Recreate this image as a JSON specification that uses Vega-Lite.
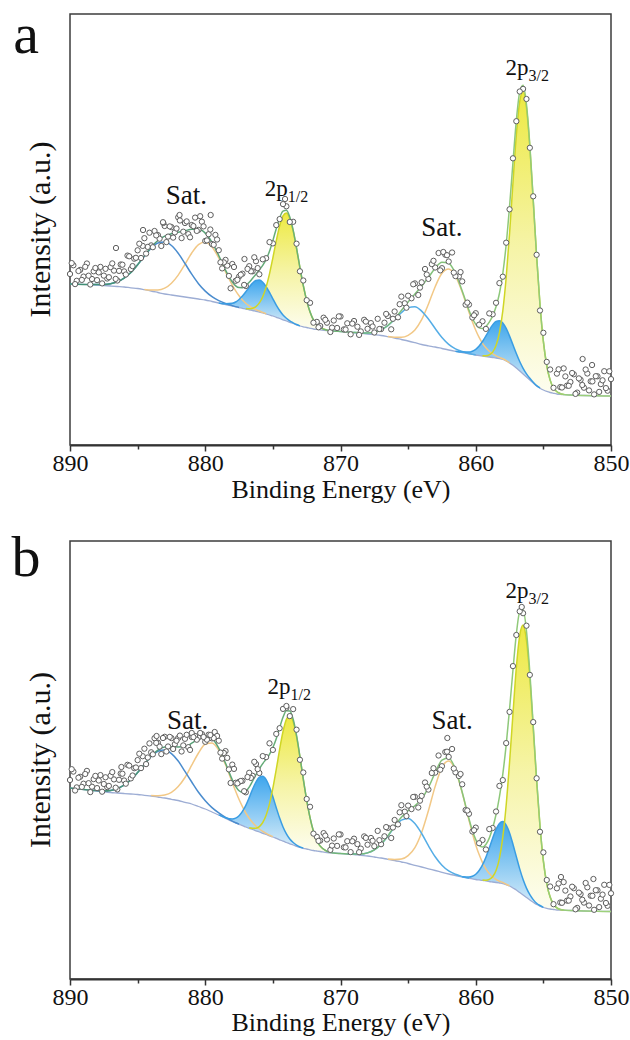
{
  "$schema": "https://vega.github.io/schema/vega-lite/v6.json",
  "background": "white",
  "padding": {"left": 10, "top": 6, "right": 5, "bottom": 0},
  "bounds": "flush",
  "spacing": 96,
  "config": {
    "view": {"stroke": "#3c3c3c", "strokeWidth": 1.5},
    "font": "Liberation Serif",
    "axis": {"labelFont": "Liberation Serif", "titleFont": "Liberation Serif", "labelColor": "#111111", "titleColor": "#111111", "titleFontWeight": "normal", "grid": false},
    "text": {"font": "Liberation Serif", "color": "#111111"}
  },
  "datasets": {
    "ca": [
      {"e":850,"bg":49,"env":49},{"e":851,"bg":49.2,"env":49.2},{"e":852,"bg":49.5,"env":49.5},{"e":853,"bg":50,"env":50},
      {"e":853.5,"bg":50.3,"env":50.6,"Y1":50.6},{"e":853.75,"bg":50.6,"env":51.4,"Y1":51.4},{"e":854,"bg":51,"env":53.2,"Y1":53.2},
      {"e":854.25,"bg":51.7,"env":57.1,"Y1":57.1},{"e":854.5,"bg":52.5,"env":64.9,"Y1":64.9},{"e":854.75,"bg":53.6,"env":79.5,"Y1":79.5},
      {"e":855,"bg":55,"env":103.7,"Y1":103.7},{"e":855.25,"bg":56.8,"env":140.5,"Y1":140.3,"B1":57},
      {"e":855.5,"bg":59,"env":189,"Y1":188.6,"B1":59.4},{"e":855.75,"bg":62,"env":245.1,"Y1":244.3,"B1":62.8},
      {"e":856,"bg":65,"env":299.6,"Y1":297.9,"B1":66.7},{"e":856.25,"bg":68,"env":340.6,"Y1":337.4,"B1":71.2},
      {"e":856.5,"bg":71,"env":359.7,"Y1":354,"B1":76.7},{"e":856.75,"bg":74,"env":352.9,"Y1":343.4,"B1":83.5},
      {"e":857,"bg":77,"env":324.4,"Y1":309.9,"B1":91.5},{"e":857.25,"bg":79.7,"env":282.5,"Y1":262,"B1":100.2},
      {"e":857.5,"bg":82,"env":238.7,"Y1":211.6,"B1":108.9,"S1":82.2},{"e":857.75,"bg":84,"env":200.5,"Y1":167.5,"B1":116.6,"S1":84.4},
      {"e":858,"bg":85.5,"env":171.5,"Y1":134.2,"B1":122.1,"S1":86.2},{"e":858.25,"bg":86.3,"env":151.5,"Y1":112.2,"B1":124.3,"S1":87.6},
      {"e":858.5,"bg":87,"env":138.2,"Y1":99.4,"B1":123.6,"S1":89.2},{"e":858.75,"bg":87.5,"env":129.1,"Y1":92.9,"B1":120.1,"S1":91.1},
      {"e":859,"bg":88,"env":122.8,"Y1":90.2,"B1":114.9,"S1":93.7},{"e":859.25,"bg":88.5,"env":118.5,"Y1":89.3,"B1":109,"S1":97.2},
      {"e":859.5,"bg":89,"env":116.5,"Y1":89.3,"B1":103.5,"S1":101.7},{"e":859.75,"bg":89.5,"env":117.1,"B1":99,"S1":107.6},
      {"e":860,"bg":90,"env":120.6,"B1":95.7,"S1":114.8,"T1":90.1},{"e":860.25,"bg":90.6,"env":126.7,"B1":93.8,"S1":123.3,"T1":90.8},
      {"e":860.5,"bg":91.2,"env":134.8,"B1":92.9,"S1":132.8,"T1":91.5},{"e":861,"bg":92.5,"env":154.1,"B1":92.9,"S1":152.8,"T1":93.5},
      {"e":861.5,"bg":93.7,"env":171.5,"B1":93.8,"S1":168.9,"T1":96.2},{"e":862,"bg":95,"env":181.7,"S1":176,"T1":100.7},
      {"e":862.5,"bg":96.5,"env":182.7,"S1":171.7,"T1":107.5},{"e":863,"bg":98,"env":176.8,"S1":158.3,"T1":116.5},
      {"e":863.5,"bg":99.2,"env":167.6,"S1":140.8,"T1":126},{"e":864,"bg":100.5,"env":158.7,"S1":125.3,"T1":133.9},
      {"e":864.5,"bg":102.3,"env":151,"S1":115,"T1":138.3},{"e":865,"bg":104,"env":143.1,"S1":109.7,"T1":137.4},
      {"e":865.5,"bg":105.5,"env":134.5,"S1":107.7,"T1":132.3},{"e":866,"bg":107,"env":126.2,"S1":107.7,"T1":125.5},
      {"e":866.5,"bg":108.3,"env":119.5,"S1":108.5,"T1":119.3},{"e":867,"bg":109.5,"env":115.2,"T1":115.2},
      {"e":867.5,"bg":110.3,"env":112.8,"T1":112.8},{"e":868,"bg":111,"env":112,"T1":112},
      {"e":868.5,"bg":111.8,"env":112.1,"T1":112.1},{"e":869,"bg":112.5,"env":112.6,"T1":112.6},
      {"e":869.5,"bg":113,"env":113},{"e":870,"bg":113.5,"env":113.5},{"e":870.5,"bg":114,"env":114},{"e":871,"bg":114.5,"env":114.9,"Y2":114.9},
      {"e":871.5,"bg":115.2,"env":117.5,"Y2":117.5},{"e":871.75,"bg":115.6,"env":120.3,"Y2":120.3},
      {"e":872,"bg":116,"env":125.1,"Y2":125.1},{"e":872.25,"bg":116.7,"env":133,"Y2":133},
      {"e":872.5,"bg":117.5,"env":144.4,"Y2":144.4},{"e":872.75,"bg":118.2,"env":159.3,"Y2":159.3},
      {"e":873,"bg":119,"env":177.3,"Y2":177.2,"B2":119.1},{"e":873.25,"bg":120.2,"env":196.9,"Y2":196.6,"B2":120.5},
      {"e":873.5,"bg":121.5,"env":214.8,"Y2":214.1,"B2":122.2},{"e":873.75,"bg":122.7,"env":228,"Y2":226.6,"B2":124.1},
      {"e":874,"bg":124,"env":234.7,"Y2":232,"B2":126.7},{"e":874.25,"bg":125.2,"env":233.9,"Y2":229.1,"B2":130},
      {"e":874.5,"bg":126.5,"env":227.1,"Y2":219.1,"B2":134.5},{"e":874.75,"bg":127.7,"env":216.3,"Y2":204.1,"B2":139.9},
      {"e":875,"bg":129,"env":204.4,"Y2":187.2,"B2":146.2},{"e":875.25,"bg":130,"env":193.7,"Y2":171.1,"B2":152.6},
      {"e":875.5,"bg":131,"env":185.6,"Y2":157.9,"B2":158.4,"S2":131.3},{"e":875.75,"bg":132,"env":179.7,"Y2":148.3,"B2":162.8,"S2":132.6},
      {"e":876,"bg":133,"env":175.1,"Y2":142.1,"B2":165,"S2":134},{"e":876.25,"bg":133.7,"env":170.8,"Y2":138.4,"B2":164.5,"S2":135.3},
      {"e":876.5,"bg":134.5,"env":166.7,"Y2":136.8,"B2":161.9,"S2":137},{"e":876.75,"bg":135.2,"env":162.7,"Y2":136.2,"B2":157.8,"S2":139.1},
      {"e":877,"bg":136,"env":159.4,"Y2":136.4,"B2":153.2,"S2":141.8},{"e":877.25,"bg":136.7,"env":157.3,"B2":148.9,"S2":145.1},
      {"e":877.5,"bg":137.5,"env":157.4,"B2":145.5,"S2":149.3,"T2":137.6},{"e":877.75,"bg":138.2,"env":159.2,"B2":143,"S2":154.2,"T2":138.4},
      {"e":878,"bg":139,"env":163,"B2":141.7,"S2":159.9,"T2":139.4},{"e":878.5,"bg":140.5,"env":174.9,"B2":141.2,"S2":173.2,"T2":141.5},
      {"e":879,"bg":142,"env":189.4,"B2":142.1,"S2":187,"T2":144.3},{"e":879.5,"bg":143.5,"env":202.7,"S2":197.9,"T2":148.3},
      {"e":880,"bg":145,"env":211.9,"S2":203,"T2":153.9},{"e":880.5,"bg":146,"env":215.7,"S2":200.4,"T2":161.3},
      {"e":881,"bg":147,"env":215.8,"S2":192,"T2":170.8},{"e":881.5,"bg":148,"env":214.2,"S2":180.7,"T2":181.5},
      {"e":882,"bg":149,"env":212.7,"S2":169.9,"T2":191.8},{"e":882.5,"bg":150,"env":211.3,"S2":161.8,"T2":199.5},
      {"e":883,"bg":151,"env":208.8,"S2":156.8,"T2":203},{"e":883.5,"bg":152.5,"env":204.5,"S2":155,"T2":202},
      {"e":884,"bg":154,"env":197.8,"S2":155,"T2":196.8},{"e":884.5,"bg":155.3,"env":189.1,"S2":155.6,"T2":188.8},
      {"e":885,"bg":156.5,"env":180.3,"T2":180.3},{"e":885.5,"bg":157.2,"env":172.5,"T2":172.5},
      {"e":886,"bg":158,"env":166.9,"T2":166.9},{"e":886.5,"bg":158.5,"env":163.3,"T2":163.3},
      {"e":887,"bg":159,"env":161.3,"T2":161.3},{"e":887.5,"bg":159.5,"env":160.5,"T2":160.5},
      {"e":888,"bg":160,"env":160.4,"T2":160.4},{"e":888.5,"bg":160.3,"env":160.4,"T2":160.4},
      {"e":889,"bg":160.6,"env":160.6},{"e":889.5,"bg":160.8,"env":160.8},{"e":890,"bg":161,"env":161}
    ],
    "cb": [
      {"e":850,"bg":67.5,"env":67.5},{"e":851,"bg":67.7,"env":67.7},{"e":852,"bg":68,"env":68},{"e":853,"bg":68.5,"env":68.5},
      {"e":853.5,"bg":68.7,"env":68.9,"Y1":68.9},{"e":853.75,"bg":68.8,"env":69.5,"Y1":69.5},{"e":854,"bg":69,"env":71.1,"Y1":71.1},
      {"e":854.25,"bg":69.5,"env":74.7,"Y1":74.7},{"e":854.5,"bg":70,"env":81.9,"Y1":81.9},{"e":854.75,"bg":70.7,"env":95.4,"Y1":95.4},
      {"e":855,"bg":71.5,"env":118.1,"Y1":117.9,"B1":71.7},{"e":855.25,"bg":72.9,"env":153.2,"Y1":152.6,"B1":73.5},
      {"e":855.5,"bg":74.5,"env":199.5,"Y1":198.2,"B1":75.8},{"e":855.75,"bg":76.7,"env":253.3,"Y1":250.6,"B1":79.4},
      {"e":856,"bg":79,"env":306.5,"Y1":301.2,"B1":84.3},{"e":856.25,"bg":81.5,"env":347.9,"Y1":338.5,"B1":90.9},
      {"e":856.5,"bg":84,"env":369.4,"Y1":354,"B1":99.4},{"e":856.75,"bg":86.5,"env":367.1,"Y1":343.5,"B1":110.1},
      {"e":857,"bg":89,"env":344.6,"Y1":311.2,"B1":122.4},{"e":857.25,"bg":91,"env":308.7,"Y1":264.9,"B1":134.8},
      {"e":857.5,"bg":93,"env":270.1,"Y1":216.7,"B1":146.1,"S1":93.3},{"e":857.75,"bg":94.3,"env":234.1,"Y1":174,"B1":153.9,"S1":94.8},
      {"e":858,"bg":95.5,"env":204.9,"Y1":141.9,"B1":157.5,"S1":96.5},{"e":858.25,"bg":96,"env":182.1,"Y1":120.7,"B1":155.6,"S1":97.8},
      {"e":858.5,"bg":96.5,"env":164.5,"Y1":108.4,"B1":149.6,"S1":99.5},{"e":858.75,"bg":97,"env":151,"Y1":102.2,"B1":140.8,"S1":102},
      {"e":859,"bg":97.5,"env":140.9,"Y1":99.6,"B1":130.9,"S1":105.4},{"e":859.25,"bg":98.1,"env":134.5,"Y1":98.8,"B1":121.7,"S1":110.2},
      {"e":859.5,"bg":98.7,"env":132,"Y1":98.9,"B1":114.1,"S1":116.4},{"e":859.75,"bg":99.1,"env":133.8,"B1":108.5,"S1":124.4},
      {"e":860,"bg":99.5,"env":139.4,"B1":104.8,"S1":134.1},{"e":860.25,"bg":100.1,"env":148.5,"B1":102.8,"S1":145.8},
      {"e":860.5,"bg":100.7,"env":160.2,"B1":102,"S1":158.8,"T1":100.8},{"e":861,"bg":102,"env":186.7,"B1":102.2,"S1":186.1,"T1":102.4},
      {"e":861.5,"bg":103.5,"env":209.7,"S1":208.5,"T1":104.7},{"e":862,"bg":105,"env":221.1,"S1":218,"T1":108.1},
      {"e":862.5,"bg":106.7,"env":218.8,"S1":211.7,"T1":113.8},{"e":863,"bg":108.5,"env":206.4,"S1":192.6,"T1":122.3},
      {"e":863.5,"bg":110.2,"env":191.4,"S1":168.3,"T1":133.3},{"e":864,"bg":112,"env":180.1,"S1":146.6,"T1":145.5},
      {"e":864.5,"bg":113.7,"env":173.2,"S1":131.4,"T1":155.5},{"e":865,"bg":115.5,"env":168.4,"S1":123.4,"T1":160.5},
      {"e":865.5,"bg":117,"env":161.8,"S1":120,"T1":158.8},{"e":866,"bg":118.5,"env":153,"S1":119.5,"T1":152},
      {"e":866.5,"bg":119.7,"env":143.1,"S1":120,"T1":142.8},{"e":867,"bg":121,"env":134.8,"T1":134.8},
      {"e":867.5,"bg":122,"env":129.1,"T1":129.1},{"e":868,"bg":123,"env":126.1,"T1":126.1},
      {"e":868.5,"bg":123.7,"env":124.9,"T1":124.9},{"e":869,"bg":124.5,"env":124.9,"T1":124.9},
      {"e":869.5,"bg":125,"env":125.1,"T1":125.1},{"e":870,"bg":125.5,"env":125.5},{"e":870.5,"bg":126,"env":126},
      {"e":871,"bg":126.5,"env":127.7,"Y2":127.7},{"e":871.5,"bg":127.5,"env":132.9,"Y2":132.9},
      {"e":871.75,"bg":128,"env":138.3,"Y2":138.3},{"e":872,"bg":128.5,"env":147.8,"Y2":147.8},
      {"e":872.25,"bg":129.2,"env":161.1,"Y2":161.1},{"e":872.5,"bg":130,"env":178.8,"Y2":178.8},
      {"e":872.75,"bg":130.7,"env":199.9,"Y2":199.7,"B2":130.9},{"e":873,"bg":131.5,"env":222.5,"Y2":222,"B2":132},
      {"e":873.25,"bg":132.7,"env":243.6,"Y2":242.4,"B2":133.9},{"e":873.5,"bg":134,"env":259.7,"Y2":257.2,"B2":136.5},
      {"e":873.75,"bg":135.2,"env":268,"Y2":263.2,"B2":140},{"e":874,"bg":136.5,"env":268.3,"Y2":259.7,"B2":145.1},
      {"e":874.25,"bg":137.8,"env":261.7,"Y2":247.5,"B2":152},{"e":874.5,"bg":139.2,"env":251.4,"Y2":229.7,"B2":160.9},
      {"e":874.75,"bg":140.6,"env":240.3,"Y2":209.6,"B2":171.3},{"e":875,"bg":142,"env":231.5,"Y2":190.8,"B2":182.3,"S2":142.4},
      {"e":875.25,"bg":143.2,"env":224.6,"Y2":175.1,"B2":192,"S2":143.9},{"e":875.5,"bg":144.5,"env":219.8,"Y2":163.8,"B2":199.3,"S2":145.7},
      {"e":875.75,"bg":145.7,"env":215.4,"Y2":156.5,"B2":202.7,"S2":147.6},{"e":876,"bg":147,"env":210.2,"Y2":152.4,"B2":201.8,"S2":150},
      {"e":876.25,"bg":148.2,"env":204.3,"Y2":150.8,"B2":197,"S2":152.9},{"e":876.5,"bg":149.5,"env":197.9,"Y2":150.7,"B2":189.8,"S2":156.4},
      {"e":876.75,"bg":150.7,"env":191.9,"Y2":151.2,"B2":181.4,"S2":160.7},{"e":877,"bg":152,"env":187.7,"B2":173.7,"S2":166},
      {"e":877.25,"bg":153.4,"env":186.6,"B2":167.6,"S2":172.4},{"e":877.5,"bg":154.7,"env":188.2,"B2":163.3,"S2":179.5,"T2":154.8},
      {"e":877.75,"bg":156.1,"env":192.7,"B2":160.9,"S2":187.7,"T2":156.3},{"e":878,"bg":157.5,"env":199.2,"B2":160,"S2":196.3,"T2":157.9},
      {"e":878.5,"bg":160.7,"env":215.7,"B2":161.2,"S2":214.2,"T2":161.6},{"e":879,"bg":164,"env":230.9,"B2":164.1,"S2":228.7,"T2":166.1},
      {"e":879.5,"bg":167,"env":240.4,"S2":236,"T2":171.4},{"e":880,"bg":170,"env":243,"S2":234.7,"T2":178.3},
      {"e":880.5,"bg":172.5,"env":240.2,"S2":226,"T2":186.7},{"e":881,"bg":175,"env":235.8,"S2":213.8,"T2":197},
      {"e":881.5,"bg":176.7,"env":232.4,"S2":201.5,"T2":207.6},{"e":882,"bg":178.5,"env":232,"S2":192.5,"T2":218},
      {"e":882.5,"bg":179.7,"env":232.3,"S2":186.6,"T2":225.4},{"e":883,"bg":181,"env":232,"S2":184,"T2":229},
      {"e":883.5,"bg":182,"env":228.9,"S2":183.2,"T2":227.7},{"e":884,"bg":183,"env":222.9,"S2":183.4,"T2":222.5},
      {"e":884.5,"bg":183.7,"env":214.6,"T2":214.6},{"e":885,"bg":184.5,"env":206.5,"T2":206.5},
      {"e":885.5,"bg":185,"env":199.2,"T2":199.2},{"e":886,"bg":185.5,"env":193.8,"T2":193.8},
      {"e":886.5,"bg":186,"env":190.4,"T2":190.4},{"e":887,"bg":186.5,"env":188.6,"T2":188.6},
      {"e":887.5,"bg":187.2,"env":188.1,"T2":188.1},{"e":888,"bg":188,"env":188.4,"T2":188.4},
      {"e":888.5,"bg":188.7,"env":188.8,"T2":188.8},{"e":889,"bg":189.5,"env":189.5},{"e":889.5,"bg":190.2,"env":190.2},{"e":890,"bg":191,"env":191}
    ],
    "pa": [
      {"e":850,"i":65.9},{"e":850.25,"i":54.3},{"e":850.5,"i":73.8},{"e":850.75,"i":60.9},{"e":851,"i":68.7},{"e":851.25,"i":50.6},{"e":851.5,"i":63.7},{"e":851.75,"i":71.5},
      {"e":852,"i":57.3},{"e":852.25,"i":65.2},{"e":852.5,"i":52.4},{"e":852.75,"i":70.7},{"e":853,"i":63},{"e":853.25,"i":59.4},{"e":853.5,"i":76.6},{"e":853.75,"i":57.9},
      {"e":854,"i":71.4},{"e":854.25,"i":57.2},{"e":854.5,"i":75.5},{"e":854.75,"i":83.1},{"e":855,"i":112.2},{"e":855.25,"i":134.5},{"e":855.5,"i":190.2},{"e":855.75,"i":248.7},
      {"e":856,"i":297.2},{"e":856.25,"i":346},{"e":856.5,"i":356.1},{"e":856.75,"i":353.5},{"e":857,"i":323.8},{"e":857.25,"i":286.7},{"e":857.5,"i":235.7},{"e":857.75,"i":202.3},
      {"e":858,"i":168.3},{"e":858.25,"i":161.9},{"e":858.5,"i":142.2},{"e":858.75,"i":130.7},{"e":859,"i":131.6},{"e":859.25,"i":116.1},{"e":859.5,"i":123.7},{"e":859.75,"i":120.3},
      {"e":860,"i":131.8},{"e":860.25,"i":127.5},{"e":860.5,"i":140.4},{"e":860.75,"i":140.3},{"e":861,"i":163.6},{"e":861.25,"i":168.6},{"e":861.5,"i":168.9},{"e":861.75,"i":192.5},
      {"e":862,"i":183.5},{"e":862.25,"i":190.3},{"e":862.5,"i":176.8},{"e":862.75,"i":192},{"e":863,"i":177.5},{"e":863.25,"i":180.9},{"e":863.5,"i":166.1},{"e":863.75,"i":176},
      {"e":864,"i":162.7},{"e":864.25,"i":150},{"e":864.5,"i":161.6},{"e":864.75,"i":146.7},{"e":865,"i":149.3},{"e":865.25,"i":141.7},{"e":865.5,"i":148.4},{"e":865.75,"i":127.7},
      {"e":866,"i":133.5},{"e":866.25,"i":115.7},{"e":866.5,"i":129},{"e":866.75,"i":122.3},{"e":867,"i":115.9},{"e":867.25,"i":126.2},{"e":867.5,"i":112.5},{"e":867.75,"i":121.9},
      {"e":868,"i":116.2},{"e":868.25,"i":125.2},{"e":868.5,"i":113.6},{"e":868.75,"i":118.3},{"e":869,"i":124},{"e":869.25,"i":110.7},{"e":869.5,"i":121.7},{"e":869.75,"i":115.6},
      {"e":870,"i":128.5},{"e":870.25,"i":117},{"e":870.5,"i":124.5},{"e":870.75,"i":113},{"e":871,"i":122.3},{"e":871.25,"i":127.3},{"e":871.5,"i":119},{"e":871.75,"i":123.1},
      {"e":872,"i":122.3},{"e":872.25,"i":142.2},{"e":872.5,"i":144.8},{"e":872.75,"i":164.5},{"e":873,"i":173.7},{"e":873.25,"i":201.3},{"e":873.5,"i":223.2},{"e":873.75,"i":223},
      {"e":874,"i":238.7},{"e":874.25,"i":240.9},{"e":874.5,"i":225.9},{"e":874.75,"i":219.9},{"e":875,"i":201.6},{"e":875.25,"i":202.9},{"e":875.5,"i":186.8},{"e":875.75,"i":185.7},
      {"e":876,"i":170.7},{"e":876.25,"i":183.8},{"e":876.5,"i":173.7},{"e":876.75,"i":178.8},{"e":877,"i":159},{"e":877.25,"i":171.3},{"e":877.5,"i":168.4},{"e":877.75,"i":164.2},
      {"e":878,"i":181},{"e":878.25,"i":169.1},{"e":878.5,"i":185.1},{"e":878.75,"i":176.6},{"e":879,"i":194.8},{"e":879.25,"i":210.1},{"e":879.5,"i":200.9},{"e":879.75,"i":210.8},
      {"e":880,"i":204.1},{"e":880.25,"i":223.3},{"e":880.5,"i":215.1},{"e":880.75,"i":227.4},{"e":881,"i":220},{"e":881.25,"i":210.9},{"e":881.5,"i":222},{"e":881.75,"i":206.9},
      {"e":882,"i":227.7},{"e":882.25,"i":212.6},{"e":882.5,"i":217.9},{"e":882.75,"i":208.4},{"e":883,"i":219},{"e":883.25,"i":199},{"e":883.5,"i":209.9},{"e":883.75,"i":214},
      {"e":884,"i":199.6},{"e":884.25,"i":198.1},{"e":884.5,"i":206.8},{"e":884.75,"i":187},{"e":885,"i":194.7},{"e":885.25,"i":186.3},{"e":885.5,"i":175.9},{"e":885.75,"i":189.4},
      {"e":886,"i":173.6},{"e":886.25,"i":180.5},{"e":886.5,"i":164.5},{"e":886.75,"i":174.4},{"e":887,"i":177.9},{"e":887.25,"i":166.5},{"e":887.5,"i":169.4},{"e":887.75,"i":178.1},
      {"e":888,"i":164.9},{"e":888.25,"i":173.7},{"e":888.5,"i":160.5},{"e":888.75,"i":181.5},{"e":889,"i":168.4},{"e":889.25,"i":175.1},{"e":889.5,"i":164.2},{"e":889.75,"i":179.7},
      {"e":890,"i":171},
      {"e":879.6,"i":230},{"e":883.1,"i":222},{"e":886.6,"i":197},{"e":874.1,"i":246},{"e":881.9,"i":230},{"e":884.6,"i":215},{"e":862.4,"i":193},{"e":877.1,"i":186},{"e":852.1,"i":86},{"e":851.4,"i":80},
      {"e":850.125,"i":73.7},{"e":850.375,"i":56.9},{"e":850.625,"i":64.7},{"e":850.875,"i":53.1},{"e":851.125,"i":68.8},{"e":851.375,"i":63.6},{"e":851.625,"i":54.6},{"e":851.875,"i":75.5},
      {"e":852.125,"i":60},{"e":852.375,"i":66.6},{"e":852.625,"i":51.1},{"e":852.875,"i":72},{"e":853.125,"i":59.2},{"e":853.375,"i":68.6},{"e":853.625,"i":57.5},{"e":853.875,"i":75.7},
      {"e":860.125,"i":129.7},{"e":860.625,"i":142.4},{"e":861.125,"i":172.9},{"e":861.625,"i":172.4},{"e":862.125,"i":189.8},{"e":862.625,"i":174.6},{"e":863.125,"i":184.2},{"e":863.625,"i":170.5},
      {"e":864.125,"i":157.4},{"e":864.625,"i":160.7},{"e":865.125,"i":137.3},{"e":865.625,"i":140.8},{"e":866.125,"i":126.2},{"e":866.625,"i":131.1},{"e":867.125,"i":116},{"e":867.625,"i":118.5},
      {"e":868.125,"i":123.4},{"e":868.625,"i":110.1},{"e":869.125,"i":121.4},{"e":869.625,"i":115.5},{"e":870.125,"i":128.6},{"e":870.625,"i":117.4},{"e":871.125,"i":125.2},{"e":871.625,"i":117.7},
      {"e":876.125,"i":176.9},{"e":876.375,"i":187.7},{"e":876.625,"i":173.7},{"e":876.875,"i":176.1},{"e":877.125,"i":160.1},{"e":877.375,"i":170.3},{"e":877.625,"i":165.2},{"e":877.875,"i":178},
      {"e":878.125,"i":156.7},{"e":878.375,"i":179.4},{"e":878.625,"i":182.6},{"e":878.875,"i":182.7},{"e":879.125,"i":205.5},{"e":879.375,"i":200.2},{"e":879.625,"i":215.5},{"e":879.875,"i":204.6},
      {"e":880.125,"i":218.6},{"e":880.375,"i":228.8},{"e":880.625,"i":214.1},{"e":880.875,"i":218.9},{"e":881.125,"i":207.7},{"e":881.375,"i":223.6},{"e":881.625,"i":213.3},{"e":881.875,"i":224.5},
      {"e":882.125,"i":216.5},{"e":882.375,"i":207.4},{"e":882.625,"i":218.6},{"e":882.875,"i":202.9},{"e":883.125,"i":222.8},{"e":883.375,"i":206.3},{"e":883.625,"i":209.6},{"e":883.875,"i":197.8},
      {"e":884.125,"i":212.3},{"e":884.375,"i":191.4},{"e":884.625,"i":199.1},{"e":884.875,"i":201.3},{"e":885.125,"i":187.2},{"e":885.375,"i":178.9},{"e":885.625,"i":188.7},{"e":885.875,"i":170.5},
      {"e":886.125,"i":180.3},{"e":886.375,"i":174.1},{"e":886.625,"i":166.1},{"e":886.875,"i":181.6},{"e":887.125,"i":167.8},{"e":887.375,"i":176.2},{"e":887.625,"i":161.6},{"e":887.875,"i":172.6},
      {"e":888.125,"i":177},{"e":888.375,"i":166},{"e":888.625,"i":169.3},{"e":888.875,"i":178.2},{"e":889.125,"i":165.1},{"e":889.375,"i":174},{"e":889.625,"i":160.9},{"e":889.875,"i":181.9}
    ],
    "pb": [
      {"e":850,"i":85.7},{"e":850.25,"i":73.2},{"e":850.5,"i":94.2},{"e":850.75,"i":80.3},{"e":851,"i":88.7},{"e":851.25,"i":69.2},{"e":851.5,"i":83.3},{"e":851.75,"i":91.7},
      {"e":852,"i":76.4},{"e":852.25,"i":84.9},{"e":852.5,"i":71.1},{"e":852.75,"i":90.8},{"e":853,"i":82.5},{"e":853.25,"i":78.4},{"e":853.5,"i":96.9},{"e":853.75,"i":76.5},
      {"e":854,"i":90.7},{"e":854.25,"i":74.8},{"e":854.5,"i":92.5},{"e":854.75,"i":99},{"e":855,"i":126.6},{"e":855.25,"i":147.2},{"e":855.5,"i":200.7},{"e":855.75,"i":256.9},
      {"e":856,"i":304.1},{"e":856.25,"i":353.3},{"e":856.5,"i":365.8},{"e":856.75,"i":367.7},{"e":857,"i":344},{"e":857.25,"i":312.9},{"e":857.5,"i":267.1},{"e":857.75,"i":235.9},
      {"e":858,"i":198.9},{"e":858.25,"i":193.1},{"e":858.5,"i":167.5},{"e":858.75,"i":151},{"e":859,"i":149.9},{"e":859.25,"i":129.5},{"e":859.5,"i":139},{"e":859.75,"i":135.8},
      {"e":860,"i":151.4},{"e":860.25,"i":147.5},{"e":860.5,"i":165.2},{"e":860.75,"i":169},{"e":861,"i":194.7},{"e":861.25,"i":203},{"e":861.5,"i":206.7},{"e":861.75,"i":230},
      {"e":862,"i":222.1},{"e":862.25,"i":227},{"e":862.5,"i":212.8},{"e":862.75,"i":223.5},{"e":863,"i":206.4},{"e":863.25,"i":206},{"e":863.5,"i":189.4},{"e":863.75,"i":196.5},
      {"e":864,"i":183.1},{"e":864.25,"i":171.5},{"e":864.5,"i":182.2},{"e":864.75,"i":169.9},{"e":865,"i":173.4},{"e":865.25,"i":167.3},{"e":865.5,"i":173.8},{"e":865.75,"i":154.6},
      {"e":866,"i":159},{"e":866.25,"i":141},{"e":866.5,"i":151.1},{"e":866.75,"i":142.7},{"e":867,"i":134.8},{"e":867.25,"i":148.1},{"e":867.5,"i":132.8},{"e":867.75,"i":141},
      {"e":868,"i":134.3},{"e":868.25,"i":142.6},{"e":868.5,"i":130.4},{"e":868.75,"i":134.9},{"e":869,"i":140.3},{"e":869.25,"i":126.9},{"e":869.5,"i":137.8},{"e":869.75,"i":131.7},
      {"e":870,"i":144.5},{"e":870.25,"i":133.1},{"e":870.5,"i":140.5},{"e":870.75,"i":129.1},{"e":871,"i":139.5},{"e":871.25,"i":145.9},{"e":871.5,"i":138.4},{"e":871.75,"i":142.2},
      {"e":872,"i":145.4},{"e":872.25,"i":172.2},{"e":872.5,"i":180},{"e":872.75,"i":206.5},{"e":873,"i":219.2},{"e":873.25,"i":249.3},{"e":873.5,"i":269.9},{"e":873.75,"i":262.9},
      {"e":874,"i":271.3},{"e":874.25,"i":270.1},{"e":874.5,"i":250.8},{"e":874.75,"i":245.1},{"e":875,"i":229.1},{"e":875.25,"i":235.7},{"e":875.5,"i":221.9},{"e":875.75,"i":222.9},
      {"e":876,"i":206},{"e":876.25,"i":215},{"e":876.5,"i":203.2},{"e":876.75,"i":206.2},{"e":877,"i":186.7},{"e":877.25,"i":198.2},{"e":877.5,"i":197.1},{"e":877.75,"i":196.2},
      {"e":878,"i":214.4},{"e":878.25,"i":209.6},{"e":878.5,"i":227.9},{"e":878.75,"i":220.4},{"e":879,"i":238.3},{"e":879.25,"i":244},{"e":879.5,"i":240.6},{"e":879.75,"i":244.3},
      {"e":880,"i":237.2},{"e":880.25,"i":245},{"e":880.5,"i":241.6},{"e":880.75,"i":243},{"e":881,"i":242},{"e":881.25,"i":231.8},{"e":881.5,"i":240.2},{"e":881.75,"i":227.5},
      {"e":882,"i":241},{"e":882.25,"i":234.8},{"e":882.5,"i":240.9},{"e":882.75,"i":232.5},{"e":883,"i":242.2},{"e":883.25,"i":224.9},{"e":883.5,"i":236.3},{"e":883.75,"i":240.8},
      {"e":884,"i":226.7},{"e":884.25,"i":221.5},{"e":884.5,"i":230.3},{"e":884.75,"i":210.9},{"e":885,"i":218.9},{"e":885.25,"i":210.8},{"e":885.5,"i":200.6},{"e":885.75,"i":214.2},
      {"e":886,"i":198.5},{"e":886.25,"i":205.5},{"e":886.5,"i":189.6},{"e":886.75,"i":199.6},{"e":887,"i":203.2},{"e":887.25,"i":191.9},{"e":887.5,"i":195},{"e":887.75,"i":203.9},
      {"e":888,"i":190.9},{"e":888.25,"i":199.9},{"e":888.5,"i":186.9},{"e":888.75,"i":208.1},{"e":889,"i":195.3},{"e":889.25,"i":202.2},{"e":889.5,"i":191.6},{"e":889.75,"i":207.4},
      {"e":890,"i":199},
      {"e":856.6,"i":372},{"e":862.1,"i":241},{"e":879.3,"i":247},{"e":874,"i":273},{"e":883.6,"i":243},{"e":881,"i":246},{"e":886.2,"i":212},{"e":851.3,"i":100},{"e":853.7,"i":102},
      {"e":850.125,"i":94.1},{"e":850.375,"i":76},{"e":850.625,"i":84.4},{"e":850.875,"i":71.9},{"e":851.125,"i":88.8},{"e":851.375,"i":83.2},{"e":851.625,"i":73.5},{"e":851.875,"i":96},
      {"e":852.125,"i":79.3},{"e":852.375,"i":86.4},{"e":852.625,"i":69.7},{"e":852.875,"i":92.3},{"e":853.125,"i":78.4},{"e":853.375,"i":88.4},{"e":853.625,"i":76.2},{"e":853.875,"i":95.5},
      {"e":860.125,"i":148.8},{"e":860.625,"i":168.5},{"e":861.125,"i":205},{"e":861.625,"i":210.5},{"e":862.125,"i":227.3},{"e":862.625,"i":209.3},{"e":863.125,"i":210.8},{"e":863.625,"i":192.4},
      {"e":864.125,"i":178.3},{"e":864.625,"i":182},{"e":865.125,"i":162.9},{"e":865.625,"i":166.7},{"e":866.125,"i":151.5},{"e":866.625,"i":151.9},{"e":867.125,"i":138.8},{"e":867.625,"i":138.2},
      {"e":868.125,"i":141.1},{"e":868.625,"i":126.8},{"e":869.125,"i":137.7},{"e":869.625,"i":131.6},{"e":870.125,"i":144.6},{"e":870.625,"i":133.4},{"e":871.125,"i":143.4},{"e":871.625,"i":138.1},
      {"e":876.125,"i":209.9},{"e":876.375,"i":217.2},{"e":876.625,"i":201.1},{"e":876.875,"i":202},{"e":877.125,"i":187.8},{"e":877.375,"i":198},{"e":877.625,"i":195.6},{"e":877.875,"i":210.1},
      {"e":878.125,"i":196},{"e":878.375,"i":221.1},{"e":878.625,"i":226},{"e":878.875,"i":226.4},{"e":879.125,"i":243},{"e":879.375,"i":241},{"e":879.625,"i":244},{"e":879.875,"i":239.3},
      {"e":880.125,"i":242},{"e":880.375,"i":246},{"e":880.625,"i":239.3},{"e":880.875,"i":241.9},{"e":881.125,"i":229.1},{"e":881.375,"i":244.2},{"e":881.625,"i":233.6},{"e":881.875,"i":243.4},
      {"e":882.125,"i":238.3},{"e":882.375,"i":230},{"e":882.625,"i":242.1},{"e":882.875,"i":227.5},{"e":883.125,"i":241},{"e":883.375,"i":232.4},{"e":883.625,"i":236.1},{"e":883.875,"i":224.7},
      {"e":884.125,"i":235.6},{"e":884.375,"i":214.9},{"e":884.625,"i":222.8},{"e":884.875,"i":225.3},{"e":885.125,"i":211.5},{"e":885.375,"i":203.5},{"e":885.625,"i":213.4},{"e":885.875,"i":195.3},
      {"e":886.125,"i":205.3},{"e":886.375,"i":199.2},{"e":886.625,"i":191.3},{"e":886.875,"i":206.9},{"e":887.125,"i":193.1},{"e":887.375,"i":201.7},{"e":887.625,"i":187.3},{"e":887.875,"i":198.5},
      {"e":888.125,"i":203.1},{"e":888.375,"i":192.3},{"e":888.625,"i":195.8},{"e":888.875,"i":205},{"e":889.125,"i":192.1},{"e":889.375,"i":201.3},{"e":889.625,"i":188.5},{"e":889.875,"i":209.8}
    ],
    "la": [{"e":856.1,"i":370,"m":"2p","s":"3/2"},{"e":873.9,"i":249,"m":"2p","s":"1/2"}],
    "sa": [{"e":881.4,"i":241,"t":"Sat."},{"e":862.5,"i":209,"t":"Sat."}],
    "lb": [{"e":856.1,"i":381,"m":"2p","s":"3/2"},{"e":873.7,"i":285,"m":"2p","s":"1/2"}],
    "sb": [{"e":881.3,"i":250,"t":"Sat."},{"e":861.75,"i":250,"t":"Sat."}]
  },
  "vconcat": [
    {
      "width": 541, "height": 431,
      "resolve": {"axis": {"x": "independent"}},
      "layer": [
        {"data": {"name": "ca"}, "transform": [{"fold": ["Y1","Y2"], "as": ["k","v"]}],
         "mark": {"type": "area", "interpolate": "monotone", "fillOpacity": 0.95, "fill": {"gradient": "linear", "x1": 0, "y1": 0, "x2": 0, "y2": 1, "stops": [{"offset": 0, "color": "#ece838"}, {"offset": 0.5, "color": "#f5f3a0"}, {"offset": 1, "color": "#fdfdef"}]}},
         "encoding": {"x": {"field": "e", "type": "quantitative", "scale": {"domain": [850,890], "reverse": true, "nice": false, "zero": false}, "axis": null},
                      "y": {"field": "v", "type": "quantitative", "scale": {"domain": [0,431], "nice": false, "zero": false}, "axis": null},
                      "y2": {"field": "bg"}, "detail": {"field": "k"}}},
        {"data": {"name": "ca"}, "transform": [{"fold": ["B1","B2"], "as": ["k","v"]}],
         "mark": {"type": "area", "interpolate": "monotone", "fillOpacity": 0.95, "fill": {"gradient": "linear", "x1": 0, "y1": 0, "x2": 0, "y2": 1, "stops": [{"offset": 0, "color": "#33a1ec"}, {"offset": 1, "color": "#d8edfb"}]}},
         "encoding": {"x": {"field": "e", "type": "quantitative", "scale": {"domain": [850,890], "reverse": true, "nice": false, "zero": false}, "axis": null},
                      "y": {"field": "v", "type": "quantitative", "scale": {"domain": [0,431], "nice": false, "zero": false}, "axis": null},
                      "y2": {"field": "bg"}, "detail": {"field": "k"}}},
        {"data": {"name": "ca"},
         "mark": {"type": "line", "interpolate": "monotone", "stroke": "#9dadd4", "strokeWidth": 1.3},
         "encoding": {"x": {"field": "e", "type": "quantitative", "scale": {"domain": [850,890], "reverse": true, "nice": false, "zero": false},
                            "axis": {"orient": "bottom", "values": [850,860,870,880,890], "format": "d", "title": "Binding Energy (eV)", "labelFontSize": 24, "titleFontSize": 26, "tickSize": 6, "tickWidth": 1.5, "tickColor": "#333333", "domainColor": "#333333", "domainWidth": 1.8, "labelPadding": 0, "titlePadding": 1, "labelFlush": false, "labelOverlap": false}},
                      "y": {"field": "bg", "type": "quantitative", "scale": {"domain": [0,431], "nice": false, "zero": false}, "axis": null}}},
        {"data": {"name": "ca"}, "transform": [{"fold": ["S1","S2","T1","T2","B1","B2","Y1","Y2"], "as": ["k","v"]}],
         "mark": {"type": "line", "interpolate": "monotone", "strokeWidth": 1.5},
         "encoding": {"x": {"field": "e", "type": "quantitative", "scale": {"domain": [850,890], "reverse": true, "nice": false, "zero": false}, "axis": null},
                      "y": {"field": "v", "type": "quantitative", "scale": {"domain": [0,431], "nice": false, "zero": false}, "axis": null},
                      "color": {"field": "k", "type": "nominal", "legend": null, "scale": {"domain": ["S1","S2","T1","T2","B1","B2","Y1","Y2"], "range": ["#f2c886","#f2c886","#55ade6","#4a8cce","#3a9de3","#3a9de3","#cfd625","#cfd625"]}}}},
        {"data": {"name": "ca"},
         "mark": {"type": "line", "interpolate": "monotone", "strokeWidth": 1.5, "stroke": {"gradient": "linear", "x1": 0, "y1": 0, "x2": 1, "y2": 0, "stops": [{"offset": 0, "color": "#3f8d74"}, {"offset": 0.5, "color": "#74b87a"}, {"offset": 1, "color": "#9fd27a"}]}},
         "encoding": {"x": {"field": "e", "type": "quantitative", "scale": {"domain": [850,890], "reverse": true, "nice": false, "zero": false},
                            "axis": {"orient": "bottom", "values": [855,865,875,885], "labels": false, "domain": false, "title": null, "tickSize": 4, "tickWidth": 1.5, "tickColor": "#333333"}},
                      "y": {"field": "env", "type": "quantitative", "scale": {"domain": [0,431], "nice": false, "zero": false}, "axis": null}}},
        {"data": {"name": "pa"},
         "mark": {"type": "circle", "size": 28, "fill": "white", "fillOpacity": 1, "stroke": "#5e5e5e", "strokeWidth": 1},
         "encoding": {"x": {"field": "e", "type": "quantitative", "scale": {"domain": [850,890], "reverse": true, "nice": false, "zero": false}, "axis": null},
                      "y": {"field": "i", "type": "quantitative", "scale": {"domain": [0,431], "nice": false, "zero": false}, "axis": null}}},
        {"data": {"name": "la"},
         "mark": {"type": "text", "fontSize": 23, "align": "right", "baseline": "alphabetic"},
         "encoding": {"x": {"field": "e", "type": "quantitative", "scale": {"domain": [850,890], "reverse": true, "nice": false, "zero": false}, "axis": null},
                      "y": {"field": "i", "type": "quantitative", "scale": {"domain": [0,431], "nice": false, "zero": false}, "axis": null},
                      "text": {"field": "m"}}},
        {"data": {"name": "la"},
         "mark": {"type": "text", "fontSize": 16, "align": "left", "baseline": "alphabetic", "dy": 6},
         "encoding": {"x": {"field": "e", "type": "quantitative", "scale": {"domain": [850,890], "reverse": true, "nice": false, "zero": false}, "axis": null},
                      "y": {"field": "i", "type": "quantitative", "scale": {"domain": [0,431], "nice": false, "zero": false}, "axis": null},
                      "text": {"field": "s"}}},
        {"data": {"name": "sa"},
         "mark": {"type": "text", "fontSize": 27, "align": "center", "baseline": "alphabetic"},
         "encoding": {"x": {"field": "e", "type": "quantitative", "scale": {"domain": [850,890], "reverse": true, "nice": false, "zero": false}, "axis": null},
                      "y": {"field": "i", "type": "quantitative", "scale": {"domain": [0,431], "nice": false, "zero": false}, "axis": null},
                      "text": {"field": "t"}}},
        {"data": {"values": [{}]},
         "mark": {"type": "text", "fontSize": 30, "angle": 270, "align": "center", "baseline": "middle"},
         "encoding": {"x": {"datum": 892.14, "type": "quantitative", "scale": {"domain": [850,890], "reverse": true, "nice": false, "zero": false}, "axis": null},
                      "y": {"datum": 215.5, "type": "quantitative", "scale": {"domain": [0,431], "nice": false, "zero": false}, "axis": null},
                      "text": {"value": "Intensity (a.u.)"}}},
        {"data": {"values": [{}]},
         "mark": {"type": "text", "fontSize": 58, "align": "center", "baseline": "alphabetic"},
         "encoding": {"x": {"datum": 893.25, "type": "quantitative", "scale": {"domain": [850,890], "reverse": true, "nice": false, "zero": false}, "axis": null},
                      "y": {"datum": 392, "type": "quantitative", "scale": {"domain": [0,431], "nice": false, "zero": false}, "axis": null},
                      "text": {"value": "a"}}}
      ]
    },
    {
      "width": 541, "height": 438,
      "resolve": {"axis": {"x": "independent"}},
      "layer": [
        {"data": {"name": "cb"}, "transform": [{"fold": ["Y1","Y2"], "as": ["k","v"]}],
         "mark": {"type": "area", "interpolate": "monotone", "fillOpacity": 0.95, "fill": {"gradient": "linear", "x1": 0, "y1": 0, "x2": 0, "y2": 1, "stops": [{"offset": 0, "color": "#ece838"}, {"offset": 0.5, "color": "#f5f3a0"}, {"offset": 1, "color": "#fdfdef"}]}},
         "encoding": {"x": {"field": "e", "type": "quantitative", "scale": {"domain": [850,890], "reverse": true, "nice": false, "zero": false}, "axis": null},
                      "y": {"field": "v", "type": "quantitative", "scale": {"domain": [0,438], "nice": false, "zero": false}, "axis": null},
                      "y2": {"field": "bg"}, "detail": {"field": "k"}}},
        {"data": {"name": "cb"}, "transform": [{"fold": ["B1","B2"], "as": ["k","v"]}],
         "mark": {"type": "area", "interpolate": "monotone", "fillOpacity": 0.95, "fill": {"gradient": "linear", "x1": 0, "y1": 0, "x2": 0, "y2": 1, "stops": [{"offset": 0, "color": "#33a1ec"}, {"offset": 1, "color": "#d8edfb"}]}},
         "encoding": {"x": {"field": "e", "type": "quantitative", "scale": {"domain": [850,890], "reverse": true, "nice": false, "zero": false}, "axis": null},
                      "y": {"field": "v", "type": "quantitative", "scale": {"domain": [0,438], "nice": false, "zero": false}, "axis": null},
                      "y2": {"field": "bg"}, "detail": {"field": "k"}}},
        {"data": {"name": "cb"},
         "mark": {"type": "line", "interpolate": "monotone", "stroke": "#9dadd4", "strokeWidth": 1.3},
         "encoding": {"x": {"field": "e", "type": "quantitative", "scale": {"domain": [850,890], "reverse": true, "nice": false, "zero": false},
                            "axis": {"orient": "bottom", "values": [850,860,870,880,890], "format": "d", "title": "Binding Energy (eV)", "labelFontSize": 24, "titleFontSize": 26, "tickSize": 6, "tickWidth": 1.5, "tickColor": "#333333", "domainColor": "#333333", "domainWidth": 1.8, "labelPadding": 0, "titlePadding": 0, "labelFlush": false, "labelOverlap": false}},
                      "y": {"field": "bg", "type": "quantitative", "scale": {"domain": [0,438], "nice": false, "zero": false}, "axis": null}}},
        {"data": {"name": "cb"}, "transform": [{"fold": ["S1","S2","T1","T2","B1","B2","Y1","Y2"], "as": ["k","v"]}],
         "mark": {"type": "line", "interpolate": "monotone", "strokeWidth": 1.5},
         "encoding": {"x": {"field": "e", "type": "quantitative", "scale": {"domain": [850,890], "reverse": true, "nice": false, "zero": false}, "axis": null},
                      "y": {"field": "v", "type": "quantitative", "scale": {"domain": [0,438], "nice": false, "zero": false}, "axis": null},
                      "color": {"field": "k", "type": "nominal", "legend": null, "scale": {"domain": ["S1","S2","T1","T2","B1","B2","Y1","Y2"], "range": ["#f2c886","#f2c886","#55ade6","#4a8cce","#3a9de3","#3a9de3","#cfd625","#cfd625"]}}}},
        {"data": {"name": "cb"},
         "mark": {"type": "line", "interpolate": "monotone", "strokeWidth": 1.5, "stroke": {"gradient": "linear", "x1": 0, "y1": 0, "x2": 1, "y2": 0, "stops": [{"offset": 0, "color": "#3f8d74"}, {"offset": 0.5, "color": "#74b87a"}, {"offset": 1, "color": "#9fd27a"}]}},
         "encoding": {"x": {"field": "e", "type": "quantitative", "scale": {"domain": [850,890], "reverse": true, "nice": false, "zero": false},
                            "axis": {"orient": "bottom", "values": [855,865,875,885], "labels": false, "domain": false, "title": null, "tickSize": 4, "tickWidth": 1.5, "tickColor": "#333333"}},
                      "y": {"field": "env", "type": "quantitative", "scale": {"domain": [0,438], "nice": false, "zero": false}, "axis": null}}},
        {"data": {"name": "pb"},
         "mark": {"type": "circle", "size": 28, "fill": "white", "fillOpacity": 1, "stroke": "#5e5e5e", "strokeWidth": 1},
         "encoding": {"x": {"field": "e", "type": "quantitative", "scale": {"domain": [850,890], "reverse": true, "nice": false, "zero": false}, "axis": null},
                      "y": {"field": "i", "type": "quantitative", "scale": {"domain": [0,438], "nice": false, "zero": false}, "axis": null}}},
        {"data": {"name": "lb"},
         "mark": {"type": "text", "fontSize": 23, "align": "right", "baseline": "alphabetic"},
         "encoding": {"x": {"field": "e", "type": "quantitative", "scale": {"domain": [850,890], "reverse": true, "nice": false, "zero": false}, "axis": null},
                      "y": {"field": "i", "type": "quantitative", "scale": {"domain": [0,438], "nice": false, "zero": false}, "axis": null},
                      "text": {"field": "m"}}},
        {"data": {"name": "lb"},
         "mark": {"type": "text", "fontSize": 16, "align": "left", "baseline": "alphabetic", "dy": 6},
         "encoding": {"x": {"field": "e", "type": "quantitative", "scale": {"domain": [850,890], "reverse": true, "nice": false, "zero": false}, "axis": null},
                      "y": {"field": "i", "type": "quantitative", "scale": {"domain": [0,438], "nice": false, "zero": false}, "axis": null},
                      "text": {"field": "s"}}},
        {"data": {"name": "sb"},
         "mark": {"type": "text", "fontSize": 27, "align": "center", "baseline": "alphabetic"},
         "encoding": {"x": {"field": "e", "type": "quantitative", "scale": {"domain": [850,890], "reverse": true, "nice": false, "zero": false}, "axis": null},
                      "y": {"field": "i", "type": "quantitative", "scale": {"domain": [0,438], "nice": false, "zero": false}, "axis": null},
                      "text": {"field": "t"}}},
        {"data": {"values": [{}]},
         "mark": {"type": "text", "fontSize": 30, "angle": 270, "align": "center", "baseline": "middle"},
         "encoding": {"x": {"datum": 892.14, "type": "quantitative", "scale": {"domain": [850,890], "reverse": true, "nice": false, "zero": false}, "axis": null},
                      "y": {"datum": 219, "type": "quantitative", "scale": {"domain": [0,438], "nice": false, "zero": false}, "axis": null},
                      "text": {"value": "Intensity (a.u.)"}}},
        {"data": {"values": [{}]},
         "mark": {"type": "text", "fontSize": 58, "align": "center", "baseline": "alphabetic"},
         "encoding": {"x": {"datum": 893.25, "type": "quantitative", "scale": {"domain": [850,890], "reverse": true, "nice": false, "zero": false}, "axis": null},
                      "y": {"datum": 403, "type": "quantitative", "scale": {"domain": [0,438], "nice": false, "zero": false}, "axis": null},
                      "text": {"value": "b"}}}
      ]
    }
  ]
}
